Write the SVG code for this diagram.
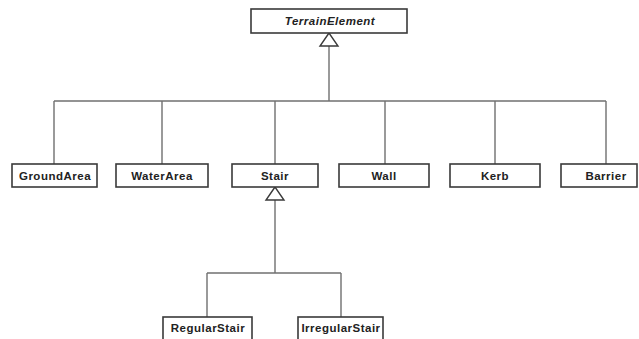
<svg xmlns="http://www.w3.org/2000/svg" width="639" height="339" viewBox="0 0 639 339">
<style>
.box{fill:#fff;stroke:#3a3a3a;stroke-width:1.6}
.lbl{font-family:"Liberation Sans",Arial,sans-serif;font-weight:bold;font-size:11.5px;letter-spacing:0.5px;fill:#222;text-anchor:middle}
.it{font-style:italic}
.ln{fill:none;stroke:#707070;stroke-width:1.4}
.tri{fill:#fff;stroke:#3a3a3a;stroke-width:1.4}
</style>
<rect width="639" height="339" fill="#fff"/>
<g id="connectors">
<path class="ln" d="M329 46 V101 M54 101 H606 M54 101 V164 M162 101 V164 M275 101 V164 M385 101 V164 M495 101 V164 M606 101 V164"/>
<polygon class="tri" points="329,33 320,46 338,46"/>
<path class="ln" d="M275 200 V273 M207 273 H341 M207 273 V317 M341 273 V317"/>
<polygon class="tri" points="275,187 266,200 284,200"/>
</g>
<g id="TerrainElement"><rect class="box" x="251" y="9" width="156" height="24"/><text class="lbl it" x="330" y="25">TerrainElement</text></g>
<g id="GroundArea"><rect class="box" x="12" y="164" width="85" height="23"/><text class="lbl" x="55" y="180">GroundArea</text></g>
<g id="WaterArea"><rect class="box" x="116" y="164" width="92" height="23"/><text class="lbl" x="162" y="180">WaterArea</text></g>
<g id="Stair"><rect class="box" x="232" y="164" width="86" height="23"/><text class="lbl" x="275" y="180">Stair</text></g>
<g id="Wall"><rect class="box" x="339" y="164" width="90" height="23"/><text class="lbl" x="384" y="180">Wall</text></g>
<g id="Kerb"><rect class="box" x="450" y="164" width="90" height="23"/><text class="lbl" x="495" y="180">Kerb</text></g>
<g id="Barrier"><rect class="box" x="561" y="164" width="76" height="23"/><text class="lbl" x="606" y="180">Barrier</text></g>
<g id="RegularStair"><rect class="box" x="163" y="317" width="89" height="24"/><text class="lbl" x="208" y="332">RegularStair</text></g>
<g id="IrregularStair"><rect class="box" x="298" y="317" width="85" height="24"/><text class="lbl" x="341" y="332">IrregularStair</text></g>
</svg>
